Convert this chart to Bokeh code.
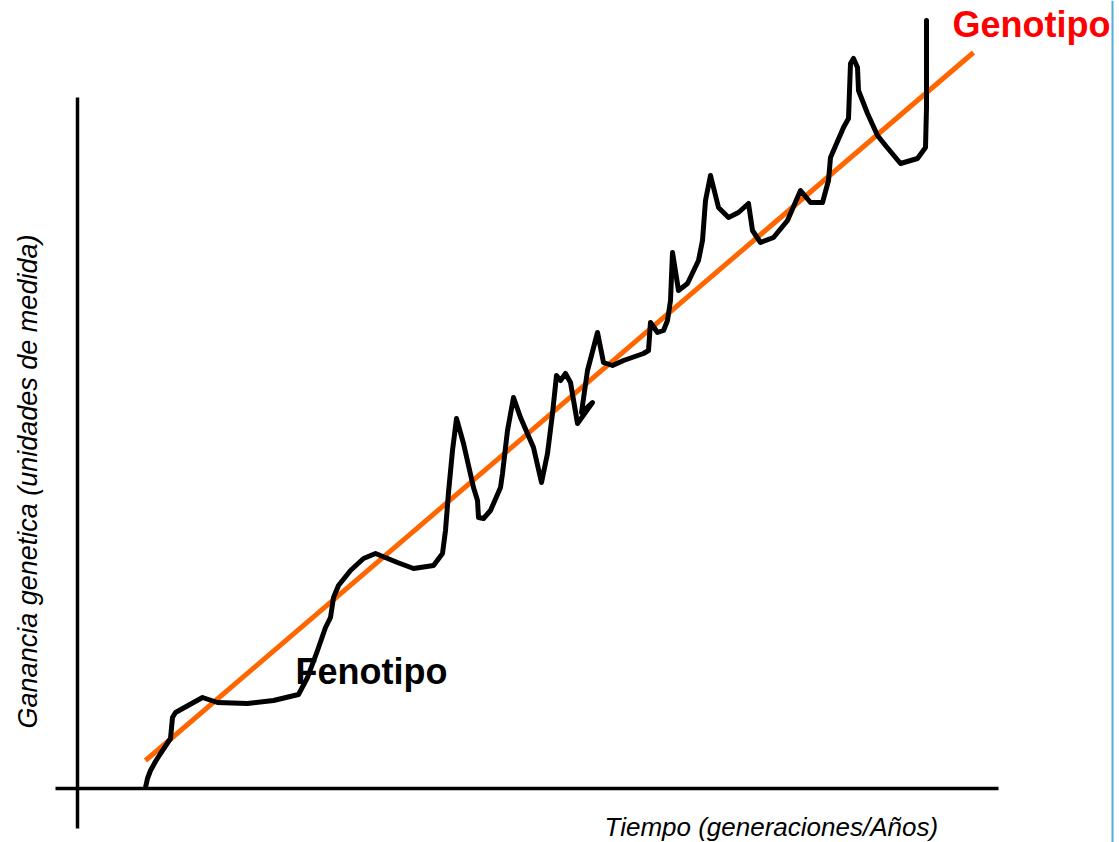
import math
from bokeh.plotting import figure
from bokeh.models import Range1d
from bokeh.core.properties import value
from bokeh.embed import file_html
from bokeh.resources import INLINE

# Phenotype (black, wiggly) trajectory: time vs genetic gain
feno_t = [68, 70, 73, 78, 83, 93, 95, 98, 125, 140, 170, 196, 221, 230, 240, 248, 253, 256, 261, 273, 286, 298,
          320, 336, 356, 365, 368, 371, 375, 379, 386, 396, 400, 401, 406, 413, 423, 425, 430, 436, 443, 456,
          464, 470, 475, 479, 483, 488, 493, 500, 515, 504, 510, 520, 523, 526, 535, 546, 566, 571, 573, 580,
          586, 590, 593, 595, 601, 610, 621, 625, 628, 633, 641, 651, 661, 671, 675, 683, 696, 710, 723, 733,
          745, 751, 753, 766, 771, 773, 776, 780, 781, 790, 800, 808, 823, 840, 848, 849, 849]
feno_y = [1, 10, 18, 27, 35, 50, 71, 76, 91, 86, 85, 88, 94, 111, 138, 161, 171, 191, 203, 218, 230, 235,
          226, 220, 223, 235, 258, 296, 338, 370, 345, 301, 288, 271, 270, 278, 301, 315, 358, 391, 371, 341,
          306, 335, 375, 413, 408, 415, 406, 365, 386, 376, 418, 456, 441, 426, 423, 428, 435, 438, 466, 456,
          458, 468, 488, 536, 498, 505, 528, 548, 588, 613, 581, 571, 576, 585, 558, 546, 551, 568, 598, 586,
          586, 608, 631, 661, 670, 725, 730, 721, 698, 675, 653, 643, 625, 630, 641, 681, 768]

# Genotype (orange, linear) trend
geno_t = [68, 896]
geno_y = [28, 736]

# Axis extents
xaxis_t = [-22, 921]
yaxis_y = [-40, 691]

labels = {
    "geno": "Genotipo",
    "feno": "Fenotipo",
    "ylab": "Ganancia genetica (unidades de medida)",
    "xlab": "Tiempo (generaciones/Años)",
}

p = figure(width=1119, height=842, output_backend="svg", toolbar_location=None,
           x_range=Range1d(-77, 1042), y_range=Range1d(-54, 788),
           min_border=0, outline_line_color=None)
p.axis.visible = False
p.grid.visible = False
p.background_fill_color = "white"
p.border_fill_color = "white"

# crossing axes
p.line(xaxis_t, [0, 0], line_color="black", line_width=3.5)
p.line([0, 0], yaxis_y, line_color="black", line_width=3.5)

# genotype line
p.line(geno_t, geno_y, line_color="#ff6600", line_width=5)

# phenotype line
p.line(feno_t, feno_y, line_color="black", line_width=5, line_join="round", line_cap="round")

# right border line
p.line([1035, 1035], [-54, 788], line_color="#55acd8", line_width=2)

p.text(x=[875], y=[764], text=[labels["geno"]], text_color="#ff0000",
       text_font=value("Liberation Sans"), text_font_style="bold", text_font_size="36px",
       text_align="left", text_baseline="alphabetic")
p.text(x=[218], y=[117], text=[labels["feno"]], text_color="black",
       text_font=value("Liberation Sans"), text_font_style="bold", text_font_size="36px",
       text_align="left", text_baseline="alphabetic")
p.text(x=[-50], y=[307], text=[labels["ylab"]], text_color="black", angle=math.pi / 2,
       text_font=value("Liberation Sans"), text_font_style="italic", text_font_size="27px",
       text_align="center", text_baseline="middle")
p.text(x=[527], y=[-38], text=[labels["xlab"]], text_color="black",
       text_font=value("Liberation Sans"), text_font_style="italic", text_font_size="26px",
       text_align="left", text_baseline="alphabetic")

open("out.html", "w").write(file_html(p, INLINE))
